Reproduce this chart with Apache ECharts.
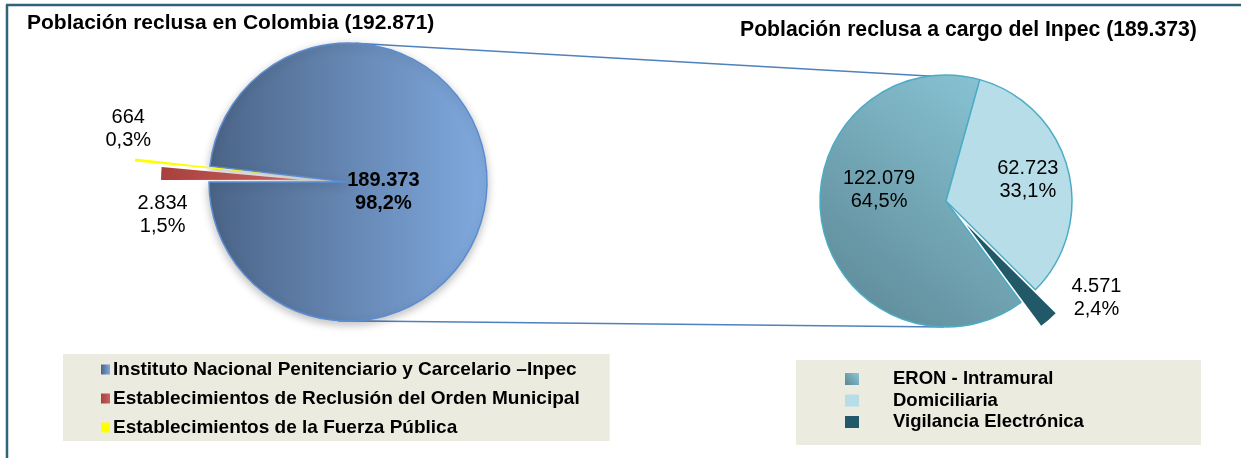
<!DOCTYPE html>
<html>
<head>
<meta charset="utf-8">
<script src="https://cdn.jsdelivr.net/npm/echarts@6/dist/echarts.min.js"></script>
<style>
  html, body { margin: 0; padding: 0; background: #ffffff; }
  #chart { width: 1241px; height: 458px; }
</style>
</head>
<body>
<div id="chart"></div>
<script>
// Datos: población reclusa
const leftTitle = 'Población reclusa en Colombia';
const leftNames = [
    'Instituto Nacional Penitenciario y Carcelario –Inpec',
    'Establecimientos de Reclusión del Orden Municipal',
    'Establecimientos de la Fuerza Pública'
];
const leftValues = [189373, 2834, 664];

const rightTitle = 'Población reclusa a cargo del Inpec';
const rightNames = ['ERON - Intramural', 'Domiciliaria', 'Vigilancia Electrónica'];
const rightValues = [122079, 62723, 4571];

// Geometría de las tortas
const L = { cx: 348, cy: 182, r: 139 };
const R = { cx: 946, cy: 201, r: 126 };
const FONT = 'Liberation Sans, Arial, sans-serif';

const grad = echarts.graphic.LinearGradient;
const leftColors = [
    new grad(0, 0, 1, 0, [{ offset: 0, color: '#4b6487' }, { offset: 1, color: '#80aadf' }]),
    new grad(0, 0, 1, 0, [{ offset: 0, color: '#a8403d' }, { offset: 1, color: '#c9625e' }]),
    '#ffff00'
];
const rightColors = [
    new grad(1, 0, 0, 1, [{ offset: 0, color: '#8cc8d8' }, { offset: 1, color: '#5a8593' }]),
    '#b7dde8',
    '#215968'
];

const sum = arr => arr.reduce((a, b) => a + b, 0);
const fmtNum = v => String(v).replace(/\B(?=(\d{3})+(?!\d))/g, '.');
const fmtPct = (v, total) => (v / total * 100).toFixed(1).replace('.', ',') + '%';

// Datos de una serie: solo los índices visibles se pintan, el resto queda transparente
function pieData(names, values, colors, visible, selected, borders) {
    return values.map(function (v, i) {
        if (visible.indexOf(i) < 0) {
            return {
                name: '', value: v,
                itemStyle: { color: 'transparent', borderWidth: 0, shadowBlur: 0 },
                label: { show: false }
            };
        }
        return {
            name: names[i], value: v,
            selected: selected.indexOf(i) >= 0,
            itemStyle: Object.assign({ color: colors[i] }, borders[i] || {})
        };
    });
}

function labelFmt(total) {
    return function (p) {
        return fmtNum(p.value) + '\n' + fmtPct(p.value, total);
    };
}

// desplazamientos de etiquetas (dx, dy) por índice
function shiftLabels(shifts) {
    return function (params) {
        const s = shifts[params.dataIndex];
        return s ? { dx: s[0], dy: s[1] } : {};
    };
}

const leftTotal = sum(leftValues);
const rightTotal = sum(rightValues);

const baseLabel = {
    show: true,
    position: 'inside',
    color: '#000',
    fontFamily: FONT,
    fontSize: 20,
    lineHeight: 23
};

const leftBorders = [
    { borderColor: '#5b8cd2', borderWidth: 1.5, shadowBlur: 8, shadowColor: 'rgba(0,0,0,0.25)', shadowOffsetY: 3 },
    { borderWidth: 0 },
    { borderWidth: 0 }
];
const rightBorders = [
    { borderColor: '#4bacc6', borderWidth: 1.5 },
    { borderColor: '#4bacc6', borderWidth: 1.5 },
    { borderWidth: 0 }
];

function polar(c, deg, rr) {
    const a = deg * Math.PI / 180;
    return [c.cx + rr * Math.cos(a), c.cy - rr * Math.sin(a)];
}
const lt = polar(L, 87, L.r), rt = polar(R, 76, R.r);
const lb = polar(L, 266, L.r), rb = polar(R, 269, R.r);

const titleStyle = { fontFamily: FONT, fontSize: 21, fontWeight: 'bold', color: '#000' };
const legendIcon = { borderWidth: 0, shadowBlur: 0 };

const option = {
    backgroundColor: '#ffffff',
    animation: false,
    title: [
        {
            text: leftTitle + ' (' + fmtNum(leftTotal) + ')',
            left: 27, top: 13, padding: 0,
            textStyle: titleStyle
        },
        {
            text: rightTitle + ' (' + fmtNum(rightTotal) + ')',
            left: 740, top: 20, padding: 0,
            textStyle: Object.assign({}, titleStyle, { fontSize: 21.2 })
        }
    ],
    legend: [
        {
            data: leftNames,
            orient: 'vertical',
            left: 63, top: 354,
            padding: [6, 30, 4, 38],
            itemGap: 10,
            itemWidth: 9, itemHeight: 10,
            icon: 'rect',
            itemStyle: legendIcon,
            backgroundColor: '#ecebe0',
            selectedMode: false,
            textStyle: { fontFamily: FONT, fontSize: 19, lineHeight: 19, fontWeight: 'bold', color: '#000', padding: [0, 0, 0, -2] }
        },
        {
            data: rightNames,
            orient: 'vertical',
            left: 796, top: 360,
            padding: [9, 117, 13, 49],
            itemGap: 1.5,
            itemWidth: 14, itemHeight: 12,
            icon: 'rect',
            itemStyle: legendIcon,
            backgroundColor: '#ecebe0',
            selectedMode: false,
            textStyle: { fontFamily: FONT, fontSize: 18.5, lineHeight: 20, fontWeight: 'bold', color: '#000', padding: [0, 0, 0, 29] }
        }
    ],
    graphic: [
        { type: 'line', z: 0, shape: { x1: 6, y1: 5, x2: 1241, y2: 5 }, style: { stroke: '#2e6479', lineWidth: 2.5 } },
        { type: 'line', z: 0, shape: { x1: 7, y1: 5, x2: 7, y2: 458 }, style: { stroke: '#2e6479', lineWidth: 2.5 } },
        { type: 'line', z: 0, shape: { x1: lt[0], y1: lt[1], x2: rt[0], y2: rt[1] }, style: { stroke: '#4f81bd', lineWidth: 1.5 } },
        { type: 'line', z: 0, shape: { x1: lb[0], y1: lb[1], x2: rb[0], y2: rb[1] }, style: { stroke: '#4f81bd', lineWidth: 1.5 } }
    ],
    series: [
        {
            type: 'pie', z: 2, silent: true,
            center: [L.cx, L.cy], radius: L.r,
            startAngle: 173.5, clockwise: true,
            selectedMode: 'multiple', selectedOffset: 48,
            avoidLabelOverlap: false,
            label: Object.assign({}, baseLabel, { formatter: labelFmt(leftTotal) }),
            labelLine: { show: false },
            labelLayout: shiftLabels({ 0: [-37, 6], 1: [-65, 38] }),
            data: pieData(leftNames, leftValues, leftColors, [0, 1], [1], leftBorders).map(function (d, i) {
                if (i === 0) d.label = { fontWeight: 'bold' };
                return d;
            })
        },
        {
            type: 'pie', z: 3, silent: true,
            center: [L.cx, L.cy], radius: L.r,
            startAngle: 173.5, clockwise: true,
            selectedMode: 'multiple', selectedOffset: 75,
            avoidLabelOverlap: false,
            label: Object.assign({}, baseLabel, { formatter: labelFmt(leftTotal) }),
            labelLine: { show: false },
            labelLayout: shiftLabels({ 2: [-73, -38] }),
            data: pieData(leftNames, leftValues, leftColors, [2], [2], leftBorders)
        },
        {
            type: 'pie', z: 2, silent: true,
            center: [R.cx, R.cy], radius: R.r,
            startAngle: 306.5, clockwise: true,
            selectedMode: 'multiple', selectedOffset: 31,
            avoidLabelOverlap: false,
            label: Object.assign({}, baseLabel, { formatter: labelFmt(rightTotal) }),
            labelLine: { show: false },
            labelLayout: shiftLabels({ 0: [-2, -23], 1: [18, -4], 2: [87, 24] }),
            data: pieData(rightNames, rightValues, rightColors, [0, 1, 2], [2], rightBorders)
        }
    ]
};

const chart = echarts.init(document.getElementById('chart'));
chart.setOption(option);
</script>
</body>
</html>
